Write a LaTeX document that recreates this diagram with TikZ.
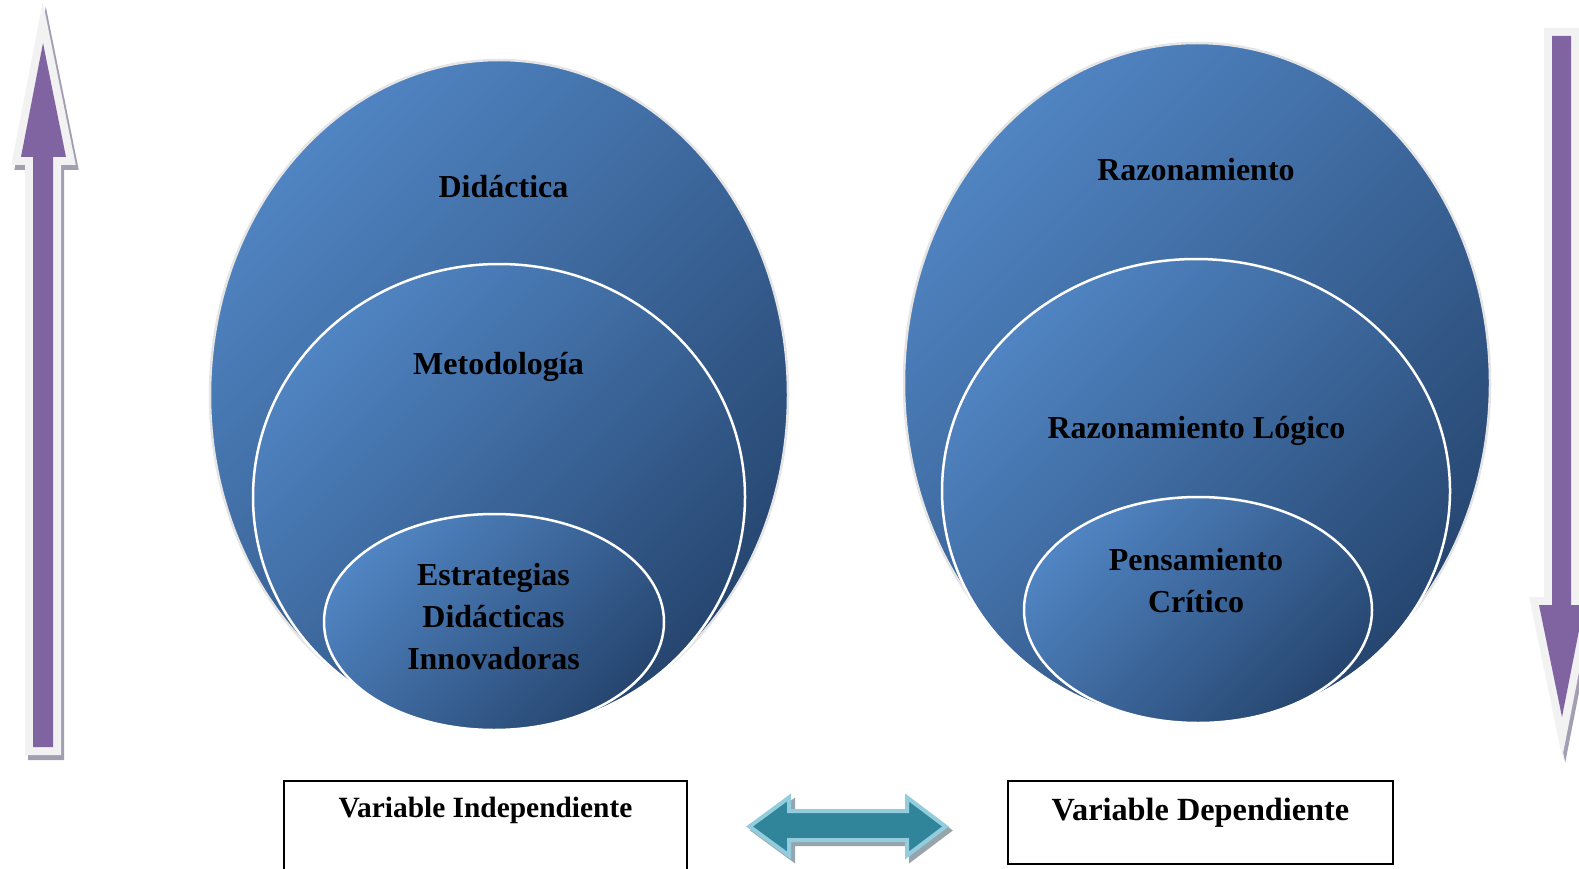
\documentclass[tikz,border=0pt]{standalone}
\usepackage{fontspec}
\setmainfont{Liberation Serif}
\usetikzlibrary{shapes.geometric, positioning}
\definecolor{blueLight}{RGB}{80,132,194}
\definecolor{blueDark}{RGB}{38,70,112}
\definecolor{arrowPurple}{RGB}{128,100,162}
\definecolor{arrowRim}{RGB}{242,242,242}
\definecolor{arrowShadow}{RGB}{164,158,178}
\definecolor{linkTeal}{RGB}{49,133,155}
\definecolor{linkRim}{RGB}{147,205,221}
\definecolor{linkShadow}{RGB}{150,165,172}
\tikzstyle{outer} = [ellipse, inner sep=0pt, draw=black!10, line width=2.5pt, top color=blueLight, bottom color=blueDark, shading angle=45]
\tikzstyle{inner} = [ellipse, inner sep=0pt, draw=white, line width=2.5pt, top color=blueLight, bottom color=blueDark, shading angle=45]
\tikzstyle{word} = [font=\bfseries\fontsize{32}{42}\selectfont, align=center, anchor=base, inner sep=0pt]
\tikzstyle{varbox} = [rectangle, draw=black, line width=1.5pt, inner sep=0pt, anchor=base]
\tikzstyle{bigrim} = [draw=arrowRim, line width=16pt, miter limit=10]
\tikzstyle{bigshadow} = [fill=arrowShadow, draw=arrowShadow, line width=16pt, miter limit=10, shift={(3,5)}]
\newcommand{\uppath}{(33,747) -- (33,157) -- (21,157) -- (43,43) -- (66,157) -- (53,157) -- (53,747) -- cycle}
\newcommand{\downpath}{(1552,36) -- (1571,36) -- (1571,605) -- (1584,605) -- (1562,717) -- (1539,605) -- (1552,605) -- cycle}
\newcommand{\linkpath}{(749.5,826.5) -- (789,797.5) -- (789,811) -- (907,811) -- (907,797.5) -- (945.5,826.5) -- (907,855.5) -- (907,840) -- (789,840) -- (789,855.5) -- cycle}
\begin{document}
\begin{tikzpicture}[x=1pt, y=-1pt]
\useasboundingbox (0,0) rectangle (1579,869);
\clip (0,0) rectangle (1579,869);

% independent variable
\node(didactica)[outer, minimum width=578pt, minimum height=670pt] at (499,395) {};
\node(metodo)[inner, minimum width=492pt, minimum height=466pt] at (499,497) {};
\node(estrat)[inner, minimum width=340pt, minimum height=216pt] at (494,622) {};
\node[word] at (503.5,198) {Didáctica};
\node[word] at (498.5,374) {Metodología};
\node[word] at (493.5,669) {Estrategias\\Didácticas\\Innovadoras};

% dependent variable
\node(razon)[outer, minimum width=586pt, minimum height=680pt] at (1197,383) {};
\node(logico)[inner, minimum width=508pt, minimum height=464pt] at (1196,491) {};
\node(critico)[inner, minimum width=348pt, minimum height=226pt] at (1198,610) {};
\node[word] at (1196,181) {Razonamiento};
\node[word] at (1196.5,438) {Razonamiento Lógico};
\node[word] at (1196,612) {Pensamiento\\Crítico};

% side arrows
\filldraw[bigshadow] \uppath;
\draw[bigrim] \uppath;
\fill[arrowPurple] \uppath;
\filldraw[bigshadow] \downpath;
\draw[bigrim] \downpath;
\fill[arrowPurple] \downpath;

% boxes
\node(indep)[varbox, font=\bfseries\fontsize{29.4}{34}\selectfont, minimum width=403pt, text height=36pt, text depth=83pt] at (485.5,817) {Variable Independiente};
\node(dep)[varbox, font=\bfseries\fontsize{32.3}{38}\selectfont, minimum width=385pt, text height=39pt, text depth=44pt] at (1200.5,820) {Variable Dependiente};
\filldraw[fill=linkShadow, draw=linkShadow, line width=4pt, shift={(4,4)}] \linkpath;
\filldraw[fill=linkTeal, draw=linkRim, line width=4pt] \linkpath;

\end{tikzpicture}
\end{document}
